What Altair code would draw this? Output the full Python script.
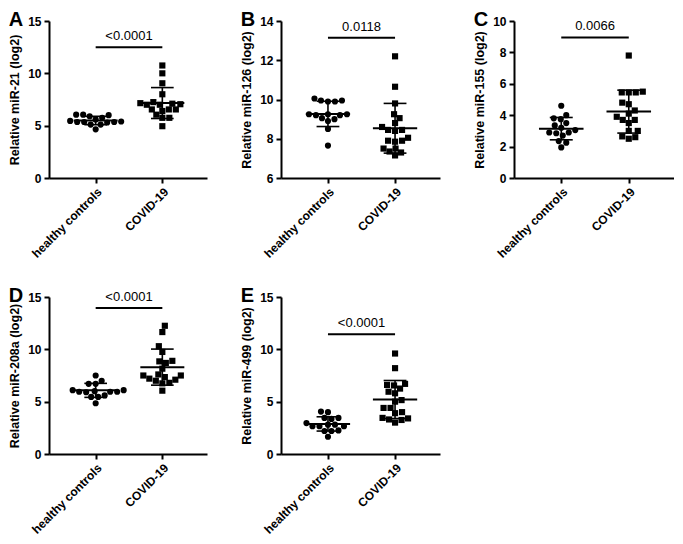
import altair as alt
import pandas as pd

groups = ["healthy controls", "COVID-19"]

# Panel A: miR-21
a_healthy = [5.6, 5.45, 5.35, 5.75, 6.05, 6.05, 5.9, 5.35, 5.1, 5.3, 5.35, 6.0, 5.4, 4.65, 5.1]
a_covid = [10.75, 10.0, 9.05, 8.0, 7.05, 7.0, 6.55, 6.55, 7.1, 7.0, 7.25, 7.15, 6.55, 6.4, 6.05, 5.75, 5.75, 4.95]
# Panel B: miR-126
b_healthy = [9.95, 9.95, 9.9, 9.9, 10.05, 9.25, 9.05, 9.25, 9.25, 9.2, 9.2, 9.0, 8.9, 8.5, 7.65]
b_covid = [12.2, 10.65, 9.8, 9.25, 8.8, 8.6, 9.05, 8.45, 8.4, 8.45, 7.9, 7.9, 7.85, 8.05, 7.5, 7.5, 7.35, 7.15, 7.3]
# Panel C: miR-155
c_healthy = [4.6, 3.75, 3.8, 4.0, 3.5, 3.35, 3.2, 2.9, 2.85, 3.05, 2.9, 2.35, 2.25, 1.95, 2.7]
c_covid = [7.8, 5.5, 5.45, 5.45, 5.45, 4.7, 4.8, 3.7, 4.3, 3.9, 3.7, 4.1, 3.0, 3.0, 2.5, 2.65, 2.6, 3.5]
# Panel D: miR-208a
d_healthy = [7.5, 7.0, 6.7, 6.7, 5.95, 5.9, 6.1, 6.0, 6.1, 5.95, 5.95, 5.45, 5.45, 5.6, 4.85]
d_covid = [12.25, 11.65, 10.3, 9.75, 8.9, 8.7, 8.85, 8.15, 7.5, 7.6, 7.0, 7.1, 7.35, 7.5, 7.2, 6.75, 6.8, 6.05]
# Panel E: miR-499
e_healthy = [4.05, 4.0, 3.45, 3.35, 3.45, 2.8, 2.65, 2.95, 2.8, 2.65, 2.65, 2.2, 2.2, 2.25, 1.65]
e_covid = [9.6, 8.2, 6.55, 6.6, 6.7, 6.25, 5.8, 5.95, 5.15, 5.0, 4.4, 4.4, 3.9, 4.0, 3.45, 3.0, 3.4, 3.3, 3.25]

letters = ["A", "B", "C", "D", "E"]
y_titles = ["Relative miR-21 (log2)", "Relative miR-126 (log2)", "Relative miR-155 (log2)",
            "Relative miR-208a (log2)", "Relative miR-499 (log2)"]
y_domains = [[0, 15], [6, 14], [0, 10], [0, 15], [0, 15]]
y_ticks = [[0, 5, 10, 15], [6, 8, 10, 12, 14], [0, 2, 4, 6, 8, 10], [0, 5, 10, 15], [0, 5, 10, 15]]
p_texts = ["<0.0001", "0.0118", "0.0066", "<0.0001", "<0.0001"]
p_levels = [12.5, 13.15, 8.95, 13.95, 11.45]

FONT = "Liberation Sans"
XDOM = [-0.7, 1.67]
WIDTHS = [158, 159, 160]
H = 157


def swarm(vals, pyu, pxu, d=6.6):
    order = sorted(range(len(vals)), key=lambda i: vals[i])
    placed = []
    offs = [0.0] * len(vals)
    flip = 1
    for i in order:
        y = vals[i] * pyu
        best = None
        k = 0
        while best is None:
            cands = [0.0] if k == 0 else [flip * k * 0.5, -flip * k * 0.5]
            for x in cands:
                if all((x - px) ** 2 + (y - py) ** 2 >= d * d for px, py in placed):
                    best = x
                    break
            k += 1
        if best != 0:
            flip = -1 if best > 0 else 1
        placed.append((best, y))
        offs[i] = best / pxu
    return offs


label_expr = "datum.value == 0 ? '%s' : '%s'" % (groups[0], groups[1])


def panel(k, W):
    healthy = [a_healthy, b_healthy, c_healthy, d_healthy, e_healthy][k]
    covid = [a_covid, b_covid, c_covid, d_covid, e_covid][k]
    dom = y_domains[k]
    pyu = H / (dom[1] - dom[0])
    pxu = W / (XDOM[1] - XDOM[0])
    rows = []
    for g, vals in enumerate([healthy, covid]):
        offs = swarm(vals, pyu, pxu)
        for v, o in zip(vals, offs):
            rows.append({"g": g, "grp": groups[g], "value": v, "x": g + o})
    df = pd.DataFrame(rows)
    xs = alt.Scale(domain=XDOM, nice=False, zero=False)
    ys = alt.Scale(domain=dom, nice=False, zero=False)
    xa = alt.Axis(values=[0, 1], labelExpr=label_expr, labelAngle=-45, title=None, labelFlush=False, grid=False)
    ya = alt.Axis(values=y_ticks[k], title=y_titles[k], grid=False)

    def X(f):
        return alt.X(f, scale=xs, axis=xa)

    def Y(f):
        return alt.Y(f, scale=ys, axis=ya)

    pts = alt.Chart(df).mark_point(filled=True, size=38, opacity=1, color="black").encode(
        x=X("x:Q"), y=Y("value:Q"),
        shape=alt.Shape("grp:N", scale=alt.Scale(domain=groups, range=["circle", "square"]), legend=None),
    )
    base = alt.Chart(df).transform_aggregate(
        m="mean(value)", s="stdev(value)", groupby=["g"]
    ).transform_calculate(
        lo="datum.m - datum.s", hi="datum.m + datum.s",
        ml="datum.g - 0.33", mr="datum.g + 0.33",
        cl="datum.g - 0.17", cr="datum.g + 0.17",
    )
    meanr = base.mark_rule(color="black", strokeWidth=2).encode(x=X("ml:Q"), x2="mr:Q", y=Y("m:Q"))
    sdv = base.mark_rule(color="black", strokeWidth=1.6).encode(x=X("g:Q"), y=Y("lo:Q"), y2="hi:Q")
    caplo = base.mark_rule(color="black", strokeWidth=1.6).encode(x=X("cl:Q"), x2="cr:Q", y=Y("lo:Q"))
    caphi = base.mark_rule(color="black", strokeWidth=1.6).encode(x=X("cl:Q"), x2="cr:Q", y=Y("hi:Q"))

    pdf = pd.DataFrame({"a": [0], "b": [1], "c": [0.5], "y": [p_levels[k]], "t": [p_texts[k]]})
    pbar = alt.Chart(pdf).mark_rule(color="black", strokeWidth=2).encode(x=X("a:Q"), x2="b:Q", y=Y("y:Q"))
    ptxt = alt.Chart(pdf).mark_text(baseline="bottom", dy=-4, font=FONT, fontSize=13, color="black").encode(
        x=X("c:Q"), y=Y("y:Q"), text="t:N")

    return alt.layer(pts, meanr, sdv, caplo, caphi, pbar, ptxt).properties(
        width=W, height=H,
        title=alt.TitleParams(letters[k], anchor="start", frame="bounds", font=FONT, fontSize=20,
                              fontWeight="bold", color="black", offset=-15),
    )


row1 = alt.hconcat(panel(0, WIDTHS[0]), panel(1, WIDTHS[1]), panel(2, WIDTHS[2]), spacing=33)
row2 = alt.hconcat(panel(3, WIDTHS[0]), panel(4, WIDTHS[1]), spacing=33)

chart = alt.vconcat(row1, row2, spacing=25).properties(
    padding={"top": 2, "left": 0, "right": 0, "bottom": 0}
).configure_view(stroke=None).configure_axis(
    domainColor="black", domainWidth=2, tickColor="black", tickWidth=2, tickSize=5,
    labelFont=FONT, labelFontWeight="bold", labelFontSize=12, labelColor="black", labelPadding=3,
    titleFont=FONT, titleFontWeight="bold", titleFontSize=12.5, titleColor="black", titlePadding=6,
    grid=False,
)

chart.save("out.html", embed_options={"renderer": "svg", "actions": False})
